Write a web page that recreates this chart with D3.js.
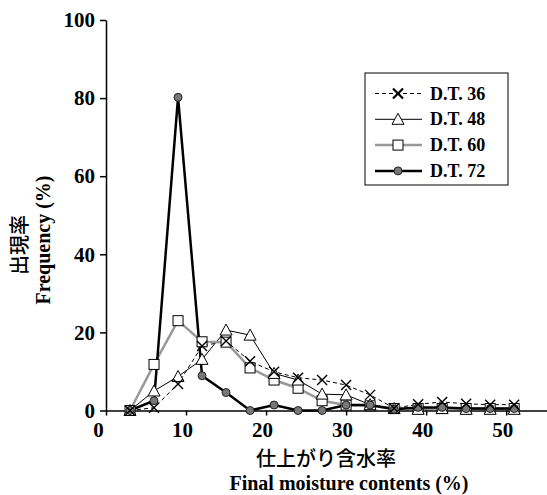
<!DOCTYPE html>
<html lang="ja">
<head>
    <meta charset="UTF-8">
    <title>Final moisture contents</title>
    <script src="https://d3js.org/d3.v7.min.js"></script>
    <style>
        body {
            margin: 0;
            background: #fff;
        }
        .tick text {
            font-family: "Liberation Serif", "Times New Roman", serif;
            font-weight: bold;
            font-size: 21px;
            fill: #000;
        }
        .title-en {
            font-family: "Liberation Serif", "Times New Roman", serif;
            font-weight: bold;
            font-size: 20px;
        }
        .title-ja {
            font-family: "Noto Sans CJK JP", sans-serif;
            font-weight: 500;
            font-size: 20px;
        }
        .legend-text {
            font-family: "Liberation Serif", "Times New Roman", serif;
            font-weight: bold;
            font-size: 18px;
        }
    </style>
</head>
<body>
<div id="chart"></div>
<script>
    // moisture classes (%)
    const moisture = [3, 6, 9, 12, 15, 18, 21, 24, 27, 30, 33, 36, 39, 42, 45, 48, 51];
    // frequency (%) per drying time
    const dt36 = [0, 0.7, 6.8, 16.5, 17.8, 12.6, 9.9, 8.4, 7.8, 6.5, 4.0, 0.6, 1.6, 2.2, 1.7, 1.5, 1.5];
    const dt48 = [0, 5.0, 8.7, 13.1, 20.6, 19.3, 9.5, 7.8, 4.2, 4.0, 1.5, 0.5, 0.3, 0.5, 0.3, 0.3, 0.3];
    const dt60 = [0, 11.8, 23.0, 17.6, 17.5, 10.9, 7.8, 5.7, 2.5, 1.4, 1.2, 0.5, 0.5, 0.5, 0.5, 0.5, 0.5];
    const dt72 = [0, 2.5, 80.2, 8.9, 4.6, 0, 1.4, 0, 0, 1.4, 1.4, 0.3, 0.8, 0.8, 0.5, 0.5, 0.5];
    const seriesNames = ["D.T. 36", "D.T. 48", "D.T. 60", "D.T. 72"];
    const xTicks = [0, 10, 20, 30, 40, 50];
    const yTicks = [0, 20, 40, 60, 80, 100];

    const width = 547, height = 495;

    const svg = d3.select("#chart").append("svg")
        .attr("width", width)
        .attr("height", height);

    const x = d3.scaleLinear().domain([0, 55.1]).range([106, 547]);
    const y = d3.scaleLinear().domain([0, 100]).range([410.5, 20]);

    // axes
    const xAxis = svg.append("g")
        .attr("transform", `translate(0, ${y(0)})`)
        .call(d3.axisBottom(x).tickValues(xTicks).tickSize(5).tickSizeOuter(0).tickPadding(7));
    xAxis.selectAll(".tick text").attr("dx", d => d === 0 ? -8 : -4);

    const yAxis = svg.append("g")
        .attr("transform", `translate(${x(0)}, 0)`)
        .call(d3.axisLeft(y).tickValues(yTicks).tickSize(6).tickSizeOuter(0).tickPadding(5));

    svg.selectAll(".domain, .tick line").attr("stroke", "#000").attr("stroke-width", 1.5);

    // series styles
    const styles = [
        { data: dt36, stroke: "#000", width: 1, dash: "4,3", marker: "cross" },
        { data: dt48, stroke: "#000", width: 1, dash: null, marker: "triangle" },
        { data: dt60, stroke: "#999", width: 2.5, dash: null, marker: "square" },
        { data: dt72, stroke: "#000", width: 2.5, dash: null, marker: "circle" }
    ];

    const line = d3.line()
        .x(d => x(d[0]))
        .y(d => y(d[1]));

    styles.forEach(s => {
        svg.append("path")
            .datum(moisture.map((m, i) => [m, s.data[i]]))
            .attr("fill", "none")
            .attr("stroke", s.stroke)
            .attr("stroke-width", s.width)
            .attr("stroke-dasharray", s.dash)
            .attr("d", line);
    });

    function drawMarker(g, type, cx, cy, sw) {
        if (type === "cross") {
            g.append("path")
                .attr("d", `M${cx - 5},${cy - 5}L${cx + 5},${cy + 5}M${cx - 5},${cy + 5}L${cx + 5},${cy - 5}`)
                .attr("stroke", "#000").attr("stroke-width", sw || 1.4).attr("fill", "none");
        } else if (type === "triangle") {
            g.append("path")
                .attr("d", `M${cx},${cy - 6}L${cx + 6},${cy + 5}L${cx - 6},${cy + 5}Z`)
                .attr("stroke", "#000").attr("stroke-width", 1).attr("fill", "#fff");
        } else if (type === "square") {
            g.append("rect")
                .attr("x", cx - 5).attr("y", cy - 5).attr("width", 10).attr("height", 10)
                .attr("stroke", "#000").attr("stroke-width", 1).attr("fill", "#fff");
        } else {
            g.append("circle")
                .attr("cx", cx).attr("cy", cy).attr("r", 4)
                .attr("stroke", "#222").attr("stroke-width", 1).attr("fill", "#777");
        }
    }

    // markers on top of lines
    [2, 1, 3, 0].forEach(k => {
        const s = styles[k];
        const g = svg.append("g");
        moisture.forEach((m, i) => drawMarker(g, s.marker, x(m), y(s.data[i])));
    });

    // legend
    const legend = svg.append("g");
    legend.append("rect")
        .attr("x", 365).attr("y", 73).attr("width", 143).attr("height", 112)
        .attr("fill", "#fff").attr("stroke", "#000").attr("stroke-width", 1);
    styles.forEach((s, i) => {
        const ly = 93.5 + i * 25.8;
        legend.append("line")
            .attr("x1", 375).attr("x2", 422).attr("y1", ly).attr("y2", ly)
            .attr("stroke", s.stroke).attr("stroke-width", s.width)
            .attr("stroke-dasharray", s.dash);
        drawMarker(legend, s.marker, 398, ly, 2.2);
        legend.append("text")
            .attr("class", "legend-text")
            .attr("x", 430).attr("y", ly + 6)
            .text(seriesNames[i]);
    });

    // axis titles
    svg.append("text").attr("class", "title-ja")
        .attr("x", 326).attr("y", 466).attr("text-anchor", "middle")
        .text("仕上がり含水率");
    svg.append("text").attr("class", "title-en")
        .attr("x", 349).attr("y", 490).attr("text-anchor", "middle")
        .text("Final moisture contents (%)");

    svg.append("text").attr("class", "title-ja")
        .attr("transform", "translate(27, 245) rotate(-90)")
        .attr("text-anchor", "middle")
        .text("出現率");
    svg.append("text").attr("class", "title-en")
        .attr("transform", "translate(50, 240) rotate(-90)")
        .attr("text-anchor", "middle")
        .text("Frequency (%)");
</script>
</body>
</html>
